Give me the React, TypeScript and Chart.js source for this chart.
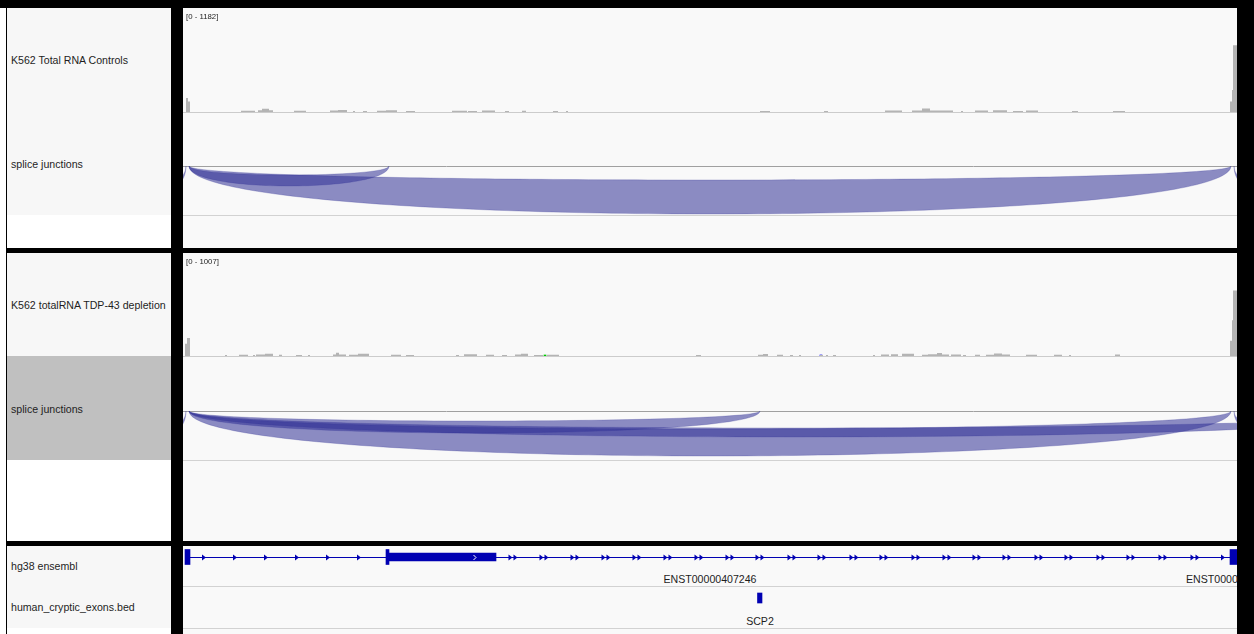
import React, { useEffect, useRef } from 'react';
import { Chart, registerables } from 'chart.js';

Chart.register(...registerables);

// ---------------- DATA (positions in kb from the left edge of the view) ----------------
const VIEW_START_KB = 0;
const VIEW_END_KB = 105.4;

const controlRangeMax = 1182;
const tdpRangeMax = 1007;

// Coverage runs: K562 Total RNA Controls
const controlCovStart = [0.3, 0.5, 5.8, 7.5, 7.9, 8.6, 11.1, 14.7, 15.5, 17.0, 18.0, 19.4, 20.3, 22.3, 26.9, 28.5, 29.9, 32.2, 33.9, 37.0, 38.3, 57.7, 64.1, 70.2, 72.9, 73.9, 74.7, 77.8, 79.2, 81.0, 83.0, 84.3, 88.9, 93.0, 104.7, 104.9, 105.0];
const controlCovEnd = [0.5, 0.7, 7.2, 7.9, 8.6, 9.0, 12.3, 15.5, 16.4, 17.2, 18.4, 20.3, 21.4, 23.2, 28.4, 29.4, 31.2, 32.6, 34.3, 37.5, 38.5, 58.7, 64.5, 71.9, 73.9, 74.7, 77.0, 78.0, 80.5, 82.4, 84.0, 85.5, 89.5, 94.2, 104.9, 105.0, 105.4];
const controlCovDepth = [160, 120, 14, 20, 38, 20, 14, 18, 24, 12, 12, 14, 20, 12, 14, 12, 16, 12, 14, 12, 12, 12, 12, 16, 18, 40, 18, 12, 16, 20, 12, 16, 12, 12, 120, 250, 760];

// Coverage runs: K562 totalRNA TDP-43 depletion
const tdpCovStart = [0.2, 0.4, 4.2, 5.6, 7.0, 7.3, 8.2, 9.6, 11.3, 12.5, 15.0, 15.3, 15.6, 16.6, 17.5, 20.8, 22.3, 27.3, 28.1, 30.3, 31.9, 33.2, 33.8, 35.1, 36.4, 51.3, 57.5, 58.0, 59.4, 60.7, 61.6, 63.7, 64.3, 65.0, 69.0, 69.8, 70.8, 71.9, 73.9, 74.5, 75.4, 75.9, 76.8, 78.0, 79.2, 80.3, 81.1, 81.9, 84.3, 87.1, 88.6, 93.2, 104.7, 104.9, 105.0];
const tdpCovEnd = [0.4, 0.7, 4.4, 6.5, 7.2, 8.2, 9.0, 9.9, 11.9, 12.7, 15.3, 15.6, 16.3, 17.5, 18.6, 21.8, 23.1, 27.6, 29.4, 31.1, 32.4, 33.8, 34.5, 36.0, 37.6, 51.8, 58.0, 58.5, 60.0, 61.0, 61.8, 64.0, 64.5, 65.3, 69.2, 70.6, 71.5, 73.1, 74.5, 75.4, 75.9, 76.6, 77.8, 78.3, 79.7, 81.1, 81.9, 82.7, 85.4, 87.9, 88.8, 93.7, 104.9, 105.0, 105.4];
const tdpCovDepth = [120, 175, 10, 12, 10, 14, 22, 12, 10, 10, 14, 32, 14, 12, 22, 12, 10, 10, 18, 12, 10, 14, 22, 10, 12, 10, 12, 20, 12, 10, 10, 10, 10, 10, 10, 14, 18, 22, 12, 18, 30, 14, 14, 10, 12, 12, 24, 14, 12, 12, 10, 14, 150, 350, 640];

// Mismatch bases shown in the TDP-43 coverage
const tdpMismatchPos = [18.2, 36.2, 63.8];
const tdpMismatchDepth = [12, 10, 10];
const tdpMismatchBase = ['C', 'A', 'C'];

// Splice junctions (start kb, end kb, outer arc depth, inner arc depth; depth in track units)
const controlJuncStart = [-6.0, 0.6, 0.6, 105.1];
const controlJuncEnd = [0.3, 20.6, 104.8, 112.0];
const controlJuncOuter = [28, 20, 48, 28];
const controlJuncInner = [20, 9, 14, 20];

const tdpJuncStart = [-6.0, 0.6, 0.6, 0.6, 105.1];
const tdpJuncEnd = [0.3, 57.7, 104.8, 121.7, 112.0];
const tdpJuncOuter = [28, 22, 45, 26, 25];
const tdpJuncInner = [20, 10, 18, 17, 16];

// hg38 ensembl transcript
const transcriptName = 'ENST00000407246';
const nextTranscriptName = 'ENST0000';
const transcriptStart = 0.2;
const transcriptEnd = 105.4;
const utrExonStart = [0.2, 20.3, 104.7];
const utrExonEnd = [0.7, 20.6, 105.4];
const cdsExonStart = [20.6];
const cdsExonEnd = [31.3];
const singleArrowPos = [2.1, 5.2, 8.3, 11.4, 14.5, 17.6, 104.0];
const doubleArrowPos = [33.0, 36.1, 39.2, 42.3, 45.4, 48.5, 51.6, 54.7, 57.7, 60.9, 63.9, 67.1, 70.1, 73.3, 76.4, 79.4, 82.4, 85.6, 88.6, 91.8, 94.8, 98.0, 101.2];
const exonArrowPos = [29.2];

// human_cryptic_exons.bed
const crypticName = 'SCP2';
const crypticStart = [57.45];
const crypticEnd = [57.9];

// Track names
const trackLabels = ['K562 Total RNA Controls', 'splice junctions', 'K562 totalRNA TDP-43 depletion', 'splice junctions', 'hg38 ensembl', 'human_cryptic_exons.bed'];

// ---------------- STYLE ----------------
const GENE_BLUE = 'rgb(0,0,178)';
const COV_GRAY = 'rgb(180,180,180)';
const ARC_FILL = 'rgba(50,50,150,0.55)';
const BASE_COLORS: Record<string, string> = { A: 'rgb(0,200,0)', C: 'rgb(0,0,255)', G: 'rgb(209,113,5)', T: 'rgb(255,0,0)' };
const LABEL_BG = '#f7f7f7';
const DATA_BG = '#f9f9f9';
const FONT = '"Liberation Sans", Arial, Helvetica, sans-serif';

function xScale() {
  return { type: 'linear', min: VIEW_START_KB, max: VIEW_END_KB, display: false, offset: false };
}

function baseOptions(ymin: number, ymax: number) {
  return {
    responsive: false,
    maintainAspectRatio: false,
    animation: false,
    devicePixelRatio: 1,
    events: [],
    layout: { padding: 0 },
    plugins: { legend: { display: false }, tooltip: { enabled: false } },
    scales: {
      x: xScale(),
      y: { type: 'linear', min: ymin, max: ymax, display: false, offset: false },
    },
  };
}

function coverageConfig(starts: number[], ends: number[], depths: number[], maxDepth: number, mmPos: number[] = [], mmDepth: number[] = [], mmBase: string[] = []) {
  const pts: { x: number; y: number }[] = [];
  starts.forEach((s, i) => {
    pts.push({ x: s, y: 0 }, { x: s, y: depths[i] }, { x: ends[i], y: depths[i] }, { x: ends[i], y: 0 });
  });
  const datasets: any[] = [
    {
      type: 'line',
      data: pts,
      borderWidth: 0,
      borderColor: 'rgba(0,0,0,0)',
      pointRadius: 0,
      fill: 'origin',
      backgroundColor: COV_GRAY,
      stepped: true,
      tension: 0,
    },
  ];
  if (mmPos.length) {
    datasets.push({
      type: 'bar',
      data: mmPos.map((p, i) => ({ x: p, y: mmDepth[i] })),
      backgroundColor: mmBase.map((b) => BASE_COLORS[b]),
      barThickness: 2,
      borderWidth: 0,
    });
  }
  return { type: 'line', data: { datasets }, options: baseOptions(0, maxDepth) };
}

function junctionConfig(starts: number[], ends: number[], outer: number[], inner: number[], ymin: number, ymax: number) {
  const arcPlugin = {
    id: 'spliceArcs',
    afterDatasetsDraw(chart: any) {
      const { ctx, chartArea, scales } = chart;
      const xs = scales.x;
      const ys = scales.y;
      const base = ys.getPixelForValue(0);
      ctx.save();
      ctx.strokeStyle = '#a0a0a0';
      ctx.lineWidth = 1;
      ctx.beginPath();
      ctx.moveTo(chartArea.left, Math.round(base) + 0.5);
      ctx.lineTo(chartArea.right, Math.round(base) + 0.5);
      ctx.stroke();
      ctx.beginPath();
      ctx.rect(chartArea.left, chartArea.top, chartArea.right - chartArea.left, chartArea.bottom - chartArea.top);
      ctx.clip();
      starts.forEach((s, i) => {
        const x0 = xs.getPixelForValue(s);
        const x1 = xs.getPixelForValue(ends[i]);
        // cubic bezier with controls at arc ends: peak depth = 0.75 * control offset
        const po = ys.getPixelForValue(-outer[i] / 0.75);
        const pi = ys.getPixelForValue(-inner[i] / 0.75);
        ctx.beginPath();
        ctx.moveTo(x0, base);
        ctx.bezierCurveTo(x0, po, x1, po, x1, base);
        ctx.bezierCurveTo(x1, pi, x0, pi, x0, base);
        ctx.closePath();
        ctx.fillStyle = ARC_FILL;
        ctx.fill();
        ctx.strokeStyle = 'rgba(50,50,150,0.35)';
        ctx.lineWidth = 0.7;
        ctx.stroke();
      });
      ctx.restore();
    },
  };
  return {
    type: 'scatter',
    data: { datasets: [{ data: starts.map((s, i) => ({ x: (s + ends[i]) / 2, y: 0 })), pointRadius: 0 }] },
    options: baseOptions(ymin, ymax),
    plugins: [arcPlugin],
  };
}

function drawArrow(ctx: CanvasRenderingContext2D, x: number, y: number, color: string) {
  ctx.fillStyle = color;
  ctx.beginPath();
  ctx.moveTo(x - 2, y - 3);
  ctx.lineTo(x + 2, y);
  ctx.lineTo(x - 2, y + 3);
  ctx.closePath();
  ctx.fill();
}

function geneConfig() {
  const label = transcriptName;
  const genePlugin = {
    id: 'geneStructure',
    beforeDatasetsDraw(chart: any) {
      const { ctx, scales } = chart;
      const y = Math.round(scales.y.getPixelForValue(0)) + 0.5;
      ctx.save();
      ctx.strokeStyle = GENE_BLUE;
      ctx.lineWidth = 1;
      ctx.beginPath();
      ctx.moveTo(scales.x.getPixelForValue(transcriptStart), y);
      ctx.lineTo(scales.x.getPixelForValue(transcriptEnd), y);
      ctx.stroke();
      singleArrowPos.forEach((p) => drawArrow(ctx, scales.x.getPixelForValue(p), y, GENE_BLUE));
      doubleArrowPos.forEach((p) => {
        const px = scales.x.getPixelForValue(p);
        drawArrow(ctx, px - 2.5, y, GENE_BLUE);
        drawArrow(ctx, px + 2.5, y, GENE_BLUE);
      });
      ctx.restore();
    },
    afterDatasetsDraw(chart: any) {
      const { ctx, scales } = chart;
      const y = Math.round(scales.y.getPixelForValue(0)) + 0.5;
      ctx.save();
      ctx.strokeStyle = '#ffffff';
      ctx.lineWidth = 1;
      exonArrowPos.forEach((p) => {
        const px = scales.x.getPixelForValue(p);
        ctx.beginPath();
        ctx.moveTo(px - 1.5, y - 2.5);
        ctx.lineTo(px + 1, y);
        ctx.lineTo(px - 1.5, y + 2.5);
        ctx.stroke();
      });
      ctx.restore();
    },
  };
  return {
    type: 'bar',
    data: {
      labels: [label],
      datasets: [
        {
          data: utrExonStart.map((s, i) => ({ x: [s, utrExonEnd[i]], y: label })),
          backgroundColor: GENE_BLUE,
          barThickness: 15,
          grouped: false,
          borderWidth: 0,
        },
        {
          data: cdsExonStart.map((s, i) => ({ x: [s, cdsExonEnd[i]], y: label })),
          backgroundColor: GENE_BLUE,
          barThickness: 8,
          grouped: false,
          borderWidth: 0,
        },
      ],
    },
    options: {
      ...baseOptions(0, 1),
      indexAxis: 'y',
      scales: {
        x: xScale(),
        y: { type: 'category', display: false },
      },
    },
    plugins: [genePlugin],
  };
}

function crypticConfig() {
  return {
    type: 'bar',
    data: {
      labels: [crypticName],
      datasets: [
        {
          data: crypticStart.map((s, i) => ({ x: [s, crypticEnd[i]], y: crypticName })),
          backgroundColor: GENE_BLUE,
          barThickness: 10,
          grouped: false,
          borderWidth: 0,
        },
      ],
    },
    options: {
      ...baseOptions(0, 1),
      indexAxis: 'y',
      scales: {
        x: xScale(),
        y: { type: 'category', display: false },
      },
    },
  };
}

function ChartCanvas({ left, top, width, height, make }: { left: number; top: number; width: number; height: number; make: () => any }) {
  const ref = useRef<HTMLCanvasElement>(null);
  useEffect(() => {
    const chart = new Chart(ref.current as HTMLCanvasElement, make());
    return () => chart.destroy();
  }, []);
  return <canvas ref={ref} width={width} height={height} style={{ position: 'absolute', left, top, width, height }} />;
}

function Box({ l, t, w, h, bg }: { l: number; t: number; w: number; h: number; bg: string }) {
  return <div style={{ position: 'absolute', left: l, top: t, width: w, height: h, background: bg }} />;
}

function Text({ x, cy, size, children, align = 'left' }: { x: number; cy: number; size: number; children: React.ReactNode; align?: string }) {
  const lh = Math.ceil(size * 1.3);
  const style: any = {
    position: 'absolute',
    top: cy - lh / 2,
    height: lh,
    lineHeight: lh + 'px',
    fontSize: size,
    fontFamily: FONT,
    color: '#1e1e1e',
    whiteSpace: 'nowrap',
  };
  if (align === 'center') {
    style.left = x - 150;
    style.width = 300;
    style.textAlign = 'center';
  } else {
    style.left = x;
  }
  return <div style={style}>{children}</div>;
}

const DX = 183;
const DW = 1054;
const LX = 7;
const LW = 164;

export default function App() {
  return (
    <div style={{ position: 'fixed', left: 0, top: 0, width: 1254, height: 634, background: '#000', overflow: 'hidden' }}>
      {/* left white margin */}
      <Box l={0} t={8} w={6} h={626} bg="#ffffff" />

      {/* label panels */}
      <Box l={LX} t={8} w={LW} h={207} bg={LABEL_BG} />
      <Box l={LX} t={215} w={LW} h={33} bg="#ffffff" />
      <Box l={LX} t={253} w={LW} h={103} bg={LABEL_BG} />
      <Box l={LX} t={356} w={LW} h={104} bg="#c0c0c0" />
      <Box l={LX} t={460} w={LW} h={81} bg="#ffffff" />
      <Box l={LX} t={546} w={LW} h={82} bg={LABEL_BG} />
      <Box l={LX} t={628} w={LW} h={6} bg="#ffffff" />

      {/* data panels */}
      <Box l={DX} t={8} w={DW} h={240} bg={DATA_BG} />
      <Box l={DX} t={253} w={DW} h={288} bg={DATA_BG} />
      <Box l={DX} t={546} w={DW} h={88} bg={DATA_BG} />

      {/* track separator lines */}
      <Box l={DX} t={112} w={DW} h={1} bg="#cccccc" />
      <Box l={DX} t={215} w={DW} h={1} bg="#d2d2d2" />
      <Box l={DX} t={356} w={DW} h={1} bg="#cccccc" />
      <Box l={DX} t={460} w={DW} h={1} bg="#d2d2d2" />
      <Box l={DX} t={586} w={DW} h={1} bg="#d2d2d2" />
      <Box l={DX} t={628} w={DW} h={1} bg="#d2d2d2" />

      {/* charts */}
      <ChartCanvas left={DX} top={8} width={DW} height={104} make={() => coverageConfig(controlCovStart, controlCovEnd, controlCovDepth, controlRangeMax)} />
      <ChartCanvas left={DX} top={113} width={DW} height={102} make={() => junctionConfig(controlJuncStart, controlJuncEnd, controlJuncOuter, controlJuncInner, -49, 53)} />
      <ChartCanvas left={DX} top={253} width={DW} height={103} make={() => coverageConfig(tdpCovStart, tdpCovEnd, tdpCovDepth, tdpRangeMax, tdpMismatchPos, tdpMismatchDepth, tdpMismatchBase)} />
      <ChartCanvas left={DX} top={357} width={DW} height={103} make={() => junctionConfig(tdpJuncStart, tdpJuncEnd, tdpJuncOuter, tdpJuncInner, -49, 54)} />
      <ChartCanvas left={DX} top={546} width={DW} height={22} make={geneConfig} />
      <ChartCanvas left={DX} top={587} width={DW} height={22} make={crypticConfig} />

      {/* data range labels */}
      <Text x={186} cy={16} size={7.8}>{`[0 - ${controlRangeMax}]`}</Text>
      <Text x={186} cy={261} size={7.8}>{`[0 - ${tdpRangeMax}]`}</Text>

      {/* track names */}
      <Text x={11} cy={60} size={10.6}>{trackLabels[0]}</Text>
      <Text x={11} cy={164} size={10.6}>{trackLabels[1]}</Text>
      <Text x={11} cy={305} size={10.6}>{trackLabels[2]}</Text>
      <Text x={11} cy={409} size={10.6}>{trackLabels[3]}</Text>
      <Text x={11} cy={566} size={10.6}>{trackLabels[4]}</Text>
      <Text x={11} cy={607} size={10.6}>{trackLabels[5]}</Text>

      {/* feature names */}
      <Text x={710} cy={579} size={10.6} align="center">{transcriptName}</Text>
      <Text x={1186} cy={579} size={10.6}>{nextTranscriptName}</Text>
      <Text x={760} cy={621} size={10.6} align="center">{crypticName}</Text>
    </div>
  );
}
